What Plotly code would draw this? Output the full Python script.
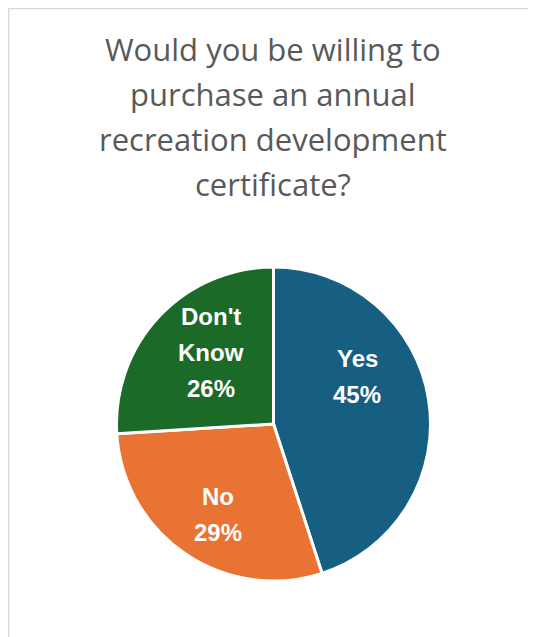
import math
import plotly.graph_objects as go

categories = ["Yes", "No", "Don't Know"]
label_lines = [["Yes"], ["No"], ["Don't", "Know"]]
values = [45, 29, 26]
colors = ["#175F82", "#E97332", "#1B6A27"]

title_lines = [
    "Would you be willing to",
    "purchase an annual",
    "recreation development",
    "certificate?",
]

# page body adds an 8px offset; layout constants below are in figure pixels
W, H = 536, 637
cx, cy, r = 265.5, 416, 157

fig = go.Figure(go.Pie(
    labels=categories,
    values=values,
    textinfo="none",
    sort=False,
    direction="clockwise",
    rotation=0,
    marker=dict(colors=colors, line=dict(color="white", width=3)),
    showlegend=False,
    hoverinfo="label+percent",
    domain=dict(x=[(cx - r) / W, (cx + r) / W], y=[(H - cy - r) / H, (H - cy + r) / H]),
))

annotations = []
# title lines
title_center_x = 265 / W
first_line_center = 41
line_gap = 45
for i, line in enumerate(title_lines):
    yc = first_line_center + i * line_gap
    annotations.append(dict(
        text=line, xref="paper", yref="paper",
        x=title_center_x, y=1 - yc / H, xanchor="center", yanchor="middle",
        showarrow=False, font=dict(family="Open Sans", size=31, color="#595959"),
    ))

# slice labels, positioned from the data (mid-angle of each slice), with small
# best-fit style nudges (pixels)
label_nudges = [(-14, -32), (0, 9), (10, -4)]
total = sum(values)
cum = 0
label_radius = 0.63 * r
label_line_gap = 36
for lines, v, (nx, ny) in zip(label_lines, values, label_nudges):
    pct = v / total
    mid = (cum + v / 2) / total * 2 * math.pi
    cum += v
    dx = math.sin(mid) * label_radius + nx
    dy = -math.cos(mid) * label_radius + ny
    all_lines = lines + [f"{round(pct * 100)}%"]
    n = len(all_lines)
    for j, t in enumerate(all_lines):
        off = (j - (n - 1) / 2) * label_line_gap
        annotations.append(dict(
            text=f"<b>{t}</b>", xref="paper", yref="paper",
            x=(cx + dx) / W, y=1 - (cy + dy + off) / H,
            xanchor="center", yanchor="middle", showarrow=False,
            font=dict(family="Liberation Sans", size=24, color="white"),
        ))

fig.update_layout(
    width=W, height=H,
    margin=dict(l=0, r=0, t=0, b=0),
    paper_bgcolor="white",
    plot_bgcolor="white",
    annotations=annotations,
    shapes=[
        dict(type="line", xref="paper", yref="paper", x0=0.6 / W, x1=0.6 / W, y0=0, y1=1,
             line=dict(color="#D9D9D9", width=1.5)),
        dict(type="line", xref="paper", yref="paper", x0=0, x1=1, y0=1 - 0.6 / H, y1=1 - 0.6 / H,
             line=dict(color="#D9D9D9", width=1.5)),
    ],
)

fig.write_html("out.html")
